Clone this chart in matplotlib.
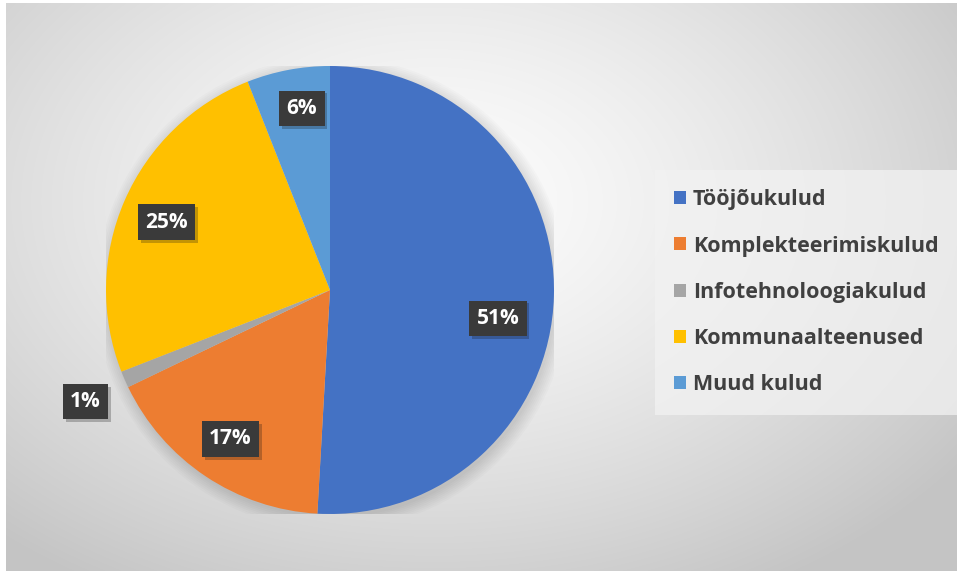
import numpy as np
import matplotlib
matplotlib.use("Agg")
import matplotlib.pyplot as plt
import matplotlib.patheffects as pe

# cost shares (%)
categories = ["Tööjõukulud", "Komplekteerimiskulud", "Infotehnoloogiakulud",
              "Kommunaalteenused", "Muud kulud"]
shares = [51, 17, 1.2, 25, 6]
share_labels = ["51%", "17%", "1%", "25%", "6%"]
colors = ["#4472c4", "#ed7d31", "#a5a5a5", "#ffc000", "#5b9bd5"]

# label placement (distance from centre, angle nudge in degrees)
label_dist = [0.76, 0.80, 1.20, 0.79, 0.82]
label_nudge = [-8, 0, 1, 1, -2]

W, H = 957, 573
fig = plt.figure(figsize=(W / 100, H / 100), dpi=100)
fig.patch.set_facecolor("white")

# radial gradient background
bg = fig.add_axes([6 / W, 2 / H, 1 - 6 / W, 1 - 5 / H])
yy, xx = np.mgrid[0:H, 0:W]
d = np.sqrt(((xx - 430) / 700) ** 2 + ((yy - 200) / 480) ** 2)
val = np.clip(0.99 - 0.24 * d ** 1.4, 0.77, 1.0)
bg.imshow(np.dstack([val, val, val]), aspect="auto", extent=[0, 1, 0, 1],
          interpolation="bilinear")
bg.set_axis_off()

# pie axes: centre (330, 290) px, radius 224 px
cx, cy, r = 330, 290, 224
ax = fig.add_axes([(cx - r) / W, (H - cy - r) / H, 2 * r / W, 2 * r / H])
ax.set_facecolor("none")

# soft shadow under pie
for k in range(8):
    ax.add_patch(plt.Circle((0.01, -0.015), 1.0 + 0.008 * k, color="black",
                            alpha=0.016, zorder=0, lw=0))

wedges, _ = ax.pie(shares, colors=colors, startangle=90, counterclock=False,
                   radius=1.0, wedgeprops=dict(linewidth=0))
ax.set_xlim(-1, 1)
ax.set_ylim(-1, 1)
ax.set_aspect("equal")

for w, lab, dist, nud in zip(wedges, share_labels, label_dist, label_nudge):
    ang = np.deg2rad((w.theta1 + w.theta2) / 2 + nud)
    x, y = dist * np.cos(ang), dist * np.sin(ang)
    t = ax.text(x, y, lab, ha="center", va="center", color="white",
                fontsize=15, fontweight="bold", family="Open Sans", zorder=5,
                bbox=dict(boxstyle="square,pad=0.35", fc="#3a3a3a", ec="none"))
    t.get_bbox_patch().set_path_effects(
        [pe.SimplePatchShadow(offset=(2, -2), alpha=0.25), pe.Normal()])

leg = fig.legend(wedges, categories, loc="upper left",
                 bbox_to_anchor=(655 / W, 1 - 170 / H), frameon=True,
                 prop=dict(family="Open Sans", weight="bold", size=15.5),
                 labelcolor="#404040", handlelength=0.55, handleheight=0.55,
                 handletextpad=0.3, labelspacing=1.17, borderpad=0.9,
                 borderaxespad=0)
leg.get_frame().set_facecolor("#f2f2f2")
leg.get_frame().set_alpha(0.75)
leg.get_frame().set_edgecolor("none")
leg.get_frame().set_boxstyle("square", pad=0)

fig.savefig("out.png", dpi=100)
